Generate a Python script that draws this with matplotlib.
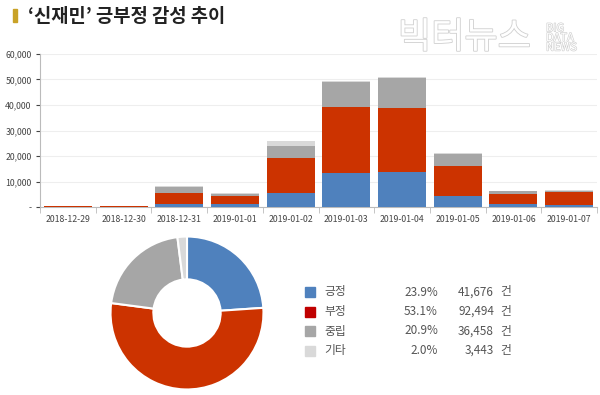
import matplotlib
matplotlib.use('Agg')
import matplotlib.pyplot as plt
import matplotlib.patheffects as pe
import numpy as np

plt.rcParams['font.family'] = ['Noto Sans CJK KR', 'DejaVu Sans']

dates = ['2018-12-29', '2018-12-30', '2018-12-31', '2019-01-01', '2019-01-02',
         '2019-01-03', '2019-01-04', '2019-01-05', '2019-01-06', '2019-01-07']
positive = [100, 50, 1300, 1300, 5600, 13400, 13800, 4400, 1300, 750]
negative = [150, 450, 4150, 2850, 13800, 25950, 24900, 11600, 3650, 5200]
neutral = [80, 40, 2450, 900, 4700, 9700, 12000, 4700, 1150, 500]
other = [20, 10, 150, 380, 1600, 350, 300, 400, 270, 280]

labels = ['긍정', '부정', '중립', '기타']
shares = [23.9, 53.1, 20.9, 2.0]
counts = [41676, 92494, 36458, 3443]
colors = ['#4f81bd', '#cc3300', '#a6a6a6', '#d9d9d9']
legend_colors = ['#4f81bd', '#c00000', '#a6a6a6', '#d9d9d9']

fig = plt.figure(figsize=(6, 3.95), dpi=100)

# title
fig.patches.append(plt.Rectangle((13/600, 1-22/395), 4/600, 13/395,
                                 transform=fig.transFigure, color='#c9a227'))
fig.text(28/600, 1-16/395, '‘신재민’ 긍부정 감성 추이', fontsize=13.5, fontweight='bold',
         va='center', color='#222222')

# watermark
fig.text(398/600, 1-38/395, '빅터뉴스', fontsize=26, color='white',
         va='center', path_effects=[pe.withStroke(linewidth=1.2, foreground='#cfcfcf')])
fig.text(546/600, 1-38/395, 'BIG\nDATA\nNEWS', fontsize=8, color='white', va='center',
         linespacing=0.95,
         path_effects=[pe.withStroke(linewidth=0.9, foreground='#cfcfcf')])

# stacked bars
ax = fig.add_axes([40/600, 1-207/395, 557/600, 153/395])
ax.patch.set_alpha(0)
x = np.arange(len(dates))
bottom = np.zeros(len(dates))
for vals, c in zip([positive, negative, neutral, other], colors):
    ax.bar(x, vals, bottom=bottom, width=0.86, color=c, zorder=3)
    bottom += np.array(vals)

ax.set_xlim(-0.5, len(dates) - 0.5)
ax.set_ylim(0, 60000)
ax.set_yticks(range(0, 60001, 10000))
ax.set_yticklabels(['-'] + [f'{v:,}' for v in range(10000, 60001, 10000)])
ax.set_xticks(x)
ax.set_xticklabels(dates)
ax.set_xticks(np.arange(-0.5, len(dates), 1), minor=True)
ax.tick_params(axis='x', which='major', length=0, labelsize=6.3, colors='#444444', pad=6)
ax.tick_params(axis='x', which='minor', length=4, color='#bbbbbb')
ax.tick_params(axis='y', length=3, labelsize=6.3, colors='#444444', pad=3)
ax.grid(axis='y', color='#eeeeee', linewidth=0.8, zorder=0)
for s in ['top', 'right']:
    ax.spines[s].set_visible(False)
ax.spines['left'].set_color('#bbbbbb')
ax.spines['bottom'].set_color('#bbbbbb')

# donut
ax2 = fig.add_axes([(187-78)/600, (395-313-78)/395, 156/600, 156/395])
ax2.pie(shares, colors=colors, startangle=90, counterclock=False,
        wedgeprops=dict(width=0.56, edgecolor='white', linewidth=1.5))
ax2.set_xlim(-1.02, 1.02)
ax2.set_ylim(-1.02, 1.02)
ax2.set_aspect('equal')

# legend table
for i in range(len(labels)):
    y = 1 - (292 + i*19.5)/395
    fig.patches.append(plt.Rectangle((305/600, y - 5/395), 10/600, 10/395,
                                     transform=fig.transFigure, color=legend_colors[i]))
    fig.text(324/600, y, labels[i], fontsize=8.5, va='center', color='#555555')
    fig.text(438/600, y, f'{shares[i]:.1f}%', fontsize=8.5, va='center', ha='right', color='#555555')
    fig.text(494/600, y, f'{counts[i]:,}', fontsize=8.5, va='center', ha='right', color='#555555')
    fig.text(500/600, y, '건', fontsize=8.5, va='center', color='#555555')

fig.savefig('out.png', dpi=100)
